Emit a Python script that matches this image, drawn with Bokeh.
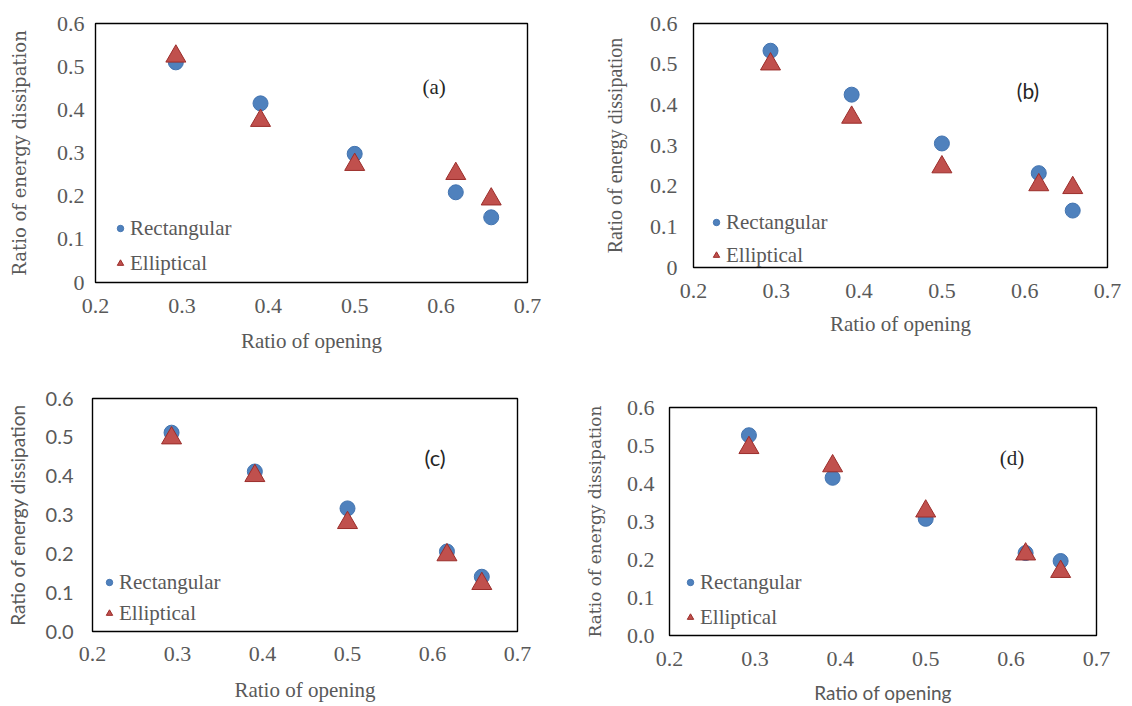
from bokeh.plotting import figure
from bokeh.layouts import column, row
from bokeh.models import FixedTicker, CustomJSTickFormatter, Label, Range1d, Spacer
from bokeh.embed import file_html
from bokeh.resources import INLINE

# ---------------- data ----------------
x_opening = [0.293, 0.391, 0.5, 0.617, 0.658]

a_rect = [0.510, 0.415, 0.298, 0.209, 0.151]
a_ell = [0.524, 0.375, 0.273, 0.252, 0.193]

b_rect = [0.533, 0.425, 0.305, 0.232, 0.140]
b_ell = [0.500, 0.369, 0.247, 0.203, 0.196]

c_rect = [0.512, 0.412, 0.317, 0.206, 0.141]
c_ell = [0.498, 0.401, 0.280, 0.197, 0.123]

d_rect = [0.527, 0.415, 0.307, 0.217, 0.196]
d_ell = [0.494, 0.446, 0.327, 0.214, 0.168]

x_ticks = [0.2, 0.3, 0.4, 0.5, 0.6, 0.7]
x_tick_labels = ["0.2", "0.3", "0.4", "0.5", "0.6", "0.7"]
y_ticks = [0.0, 0.1, 0.2, 0.3, 0.4, 0.5, 0.6]
y_tick_labels_plain = ["0", "0.1", "0.2", "0.3", "0.4", "0.5", "0.6"]
y_tick_labels_fixed = ["0.0", "0.1", "0.2", "0.3", "0.4", "0.5", "0.6"]

series_names = ["Rectangular", "Elliptical"]
panel_tags = ["(a)", "(b)", "(c)", "(d)"]
x_title = "Ratio of opening"
y_title = "Ratio of energy dissipation"

BLUE = "#4F81BD"
BLUE_EDGE = "#4374B0"
RED = "#C0504D"
RED_EDGE = "#9B2D2A"
GREY = "#595959"

SERIF = "Liberation Serif"
SANS = "Lato"
SLAB = "DejaVu Serif"

code = "const i = tk.findIndex(t => Math.abs(t - tick) < 1e-9); return i >= 0 ? lb[i] : '';"


def panel(rect, ell, tag, fw, fh, bl, bt, br, bb,
          ylabels, yfont, ysize, ytfont, ytsize, xfont, xsize, xtfont,
          tagfont, tagsize, tagpos, tick_sy, lab_sy, tick_sx, lab_sx,
          legend_loc, legend_spacing):
    p = figure(frame_width=fw, frame_height=fh,
               min_border_left=bl, min_border_top=bt,
               min_border_right=br, min_border_bottom=bb,
               x_range=Range1d(0.2, 0.7), y_range=Range1d(0, 0.6),
               output_backend="svg", toolbar_location=None)
    p.background_fill_color = "white"
    p.border_fill_color = "white"
    p.outline_line_color = "black"
    p.outline_line_width = 1.4
    p.xgrid.visible = False
    p.ygrid.visible = False

    p.scatter(x_opening, rect, marker="circle", size=15,
              fill_color=BLUE, line_color=BLUE_EDGE, legend_label=series_names[0])
    p.scatter(x_opening, ell, marker="triangle", size=20,
              fill_color=RED, line_color=RED_EDGE, legend_label=series_names[1])

    for ax in (p.xaxis[0], p.yaxis[0]):
        ax.axis_line_color = None
        ax.major_tick_line_color = None
        ax.minor_tick_line_color = None
        ax.major_tick_out = 0
        ax.major_tick_in = 0
        ax.minor_tick_out = 0
        ax.minor_tick_in = 0
        ax.major_label_text_color = GREY
        ax.axis_label_text_color = GREY
        ax.axis_label_text_font_style = "normal"

    xa = p.xaxis[0]
    xa.ticker = FixedTicker(ticks=x_ticks)
    xa.formatter = CustomJSTickFormatter(args=dict(tk=x_ticks, lb=x_tick_labels), code=code)
    xa.major_label_text_font = xtfont
    xa.major_label_text_font_size = "22px"
    xa.major_label_standoff = tick_sx
    xa.axis_label = x_title
    xa.axis_label_text_font = xfont
    xa.axis_label_text_font_size = xsize
    xa.axis_label_standoff = lab_sx

    ya = p.yaxis[0]
    ya.ticker = FixedTicker(ticks=y_ticks)
    ya.formatter = CustomJSTickFormatter(args=dict(tk=y_ticks, lb=ylabels), code=code)
    ya.major_label_text_font = ytfont
    ya.major_label_text_font_size = ytsize
    ya.major_label_standoff = tick_sy
    ya.axis_label = y_title
    ya.axis_label_text_font = yfont
    ya.axis_label_text_font_size = ysize
    ya.axis_label_standoff = lab_sy

    lg = p.legend[0]
    lg.location = legend_loc
    lg.background_fill_alpha = 0
    lg.border_line_color = None
    lg.padding = 0
    lg.margin = 0
    lg.spacing = legend_spacing
    lg.glyph_width = 16
    lg.glyph_height = 30
    lg.label_height = 30
    lg.label_standoff = 2
    lg.label_text_font = SERIF
    lg.label_text_font_size = "21px"
    lg.label_text_color = GREY

    p.add_layout(Label(x=tagpos[0], y=tagpos[1], text=tag, text_font=tagfont,
                       text_font_size=tagsize, text_color="#262626",
                       text_align="center", text_baseline="middle"))
    return p


pa = panel(a_rect, a_ell, panel_tags[0], 432, 259, 95, 23, 43, 78,
           y_tick_labels_plain, SLAB, "18px", SERIF, "22px", SERIF, "21px", SERIF,
           SERIF, "21px", (0.592, 0.452), 11, 24, 16, 13, (17, 4), 5)
pb = panel(b_rect, b_ell, panel_tags[1], 414, 244, 123, 23, 25, 93,
           y_tick_labels_plain, SERIF, "20px", SERIF, "22px", SERIF, "21px", SERIF,
           SANS, "21px", (0.604, 0.435), 16, 21, 16, 11, (15, -3), 3)
pc = panel(c_rect, c_ell, panel_tags[2], 425, 233, 92, 38, 53, 75,
           y_tick_labels_fixed, SANS, "19px", SANS, "20px", SERIF, "21px", SERIF,
           SANS, "22px", (0.603, 0.448), 19, 14, 15, 14, (9, 3), 1)
pd = panel(d_rect, d_ell, panel_tags[3], 427, 228, 99, 38, 36, 71,
           y_tick_labels_fixed, SLAB, "17px", SERIF, "22px", SANS, "19px", SERIF,
           SERIF, "21px", (0.601, 0.468), 15, 19, 16, 12, (13, 3), 5)

layout = column(
    row(pa, pb),
    row(pc, column(Spacer(width=562, height=9), pd)),
)

open("out.html", "w").write(file_html(layout, INLINE))
